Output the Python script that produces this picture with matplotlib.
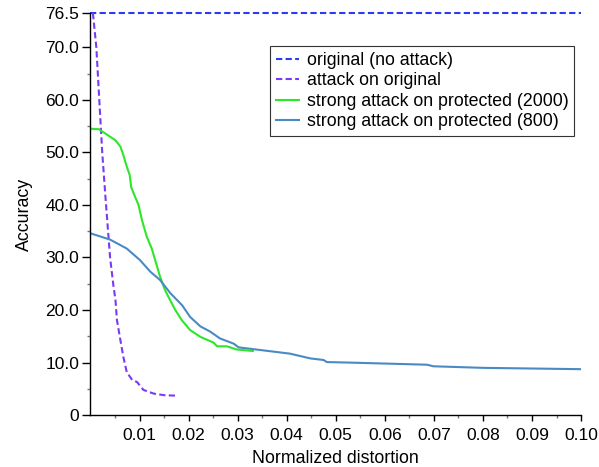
import matplotlib
matplotlib.use("Agg")
import matplotlib.pyplot as plt
from matplotlib.ticker import FixedLocator

plt.rcParams["font.family"] = ["Liberation Sans", "DejaVu Sans"]

# baseline accuracy without any attack
orig_acc = 76.5
orig_x = [0.0, 0.10]

# attack on the unprotected model
atk_x = [0.0005, 0.0012, 0.0018, 0.0024, 0.0031, 0.0040, 0.0047, 0.0051, 0.0054,
         0.0061, 0.0067, 0.0074, 0.0085, 0.0095, 0.0108, 0.0129, 0.0150, 0.0178]
atk_y = [76.5, 70.0, 60.0, 50.0, 41.0, 30.0, 24.5, 21.9, 18.1,
         14.3, 11.1, 8.2, 6.7, 6.3, 4.8, 4.1, 3.8, 3.7]

# strong attack on protected model (2000)
p2000_x = [0.0, 0.0017, 0.0030, 0.0051, 0.0061, 0.0067, 0.0074, 0.0080, 0.0083, 0.0088,
           0.0098, 0.0105, 0.0115, 0.0125, 0.0142, 0.0152, 0.0159, 0.0173,
           0.0186, 0.0203, 0.0224, 0.0251, 0.0258, 0.0278, 0.0298, 0.0331]
p2000_y = [54.5, 54.4, 53.6, 52.3, 51.1, 49.5, 47.3, 45.7, 43.4, 42.2,
           40.0, 37.1, 33.9, 31.7, 26.3, 23.8, 22.5, 20.0,
           18.1, 16.2, 14.9, 13.8, 13.1, 13.1, 12.5, 12.2]

# strong attack on protected model (800)
p800_x = [0.0, 0.0040, 0.0074, 0.0101, 0.0122, 0.0142, 0.0163, 0.0187, 0.0203, 0.0224,
          0.0244, 0.0264, 0.0292, 0.0302, 0.0346, 0.0407, 0.0448, 0.0475, 0.0482,
          0.0529, 0.0686, 0.0699, 0.0801, 0.1000]
p800_y = [34.6, 33.4, 31.7, 29.5, 27.3, 25.7, 23.2, 20.9, 18.7, 16.9,
          15.9, 14.6, 13.6, 12.9, 12.4, 11.7, 10.8, 10.5, 10.1,
          10.0, 9.6, 9.3, 9.0, 8.75]

y_ticks = [0, 10, 20, 30, 40, 50, 60, 70, 76.5]
y_labels = ["0", "10.0", "20.0", "30.0", "40.0", "50.0", "60.0", "70.0", "76.5"]
x_ticks = [0.01, 0.02, 0.03, 0.04, 0.05, 0.06, 0.07, 0.08, 0.09, 0.10]
x_labels = ["0.01", "0.02", "0.03", "0.04", "0.05", "0.06", "0.07", "0.08", "0.09", "0.10"]

fig = plt.figure(figsize=(5.99, 4.67), dpi=100)
ax = fig.add_axes([0.151, 0.111, 0.819, 0.861])

ax.plot(orig_x, [orig_acc, orig_acc], color="#2a3cf2", lw=1.5, dashes=(3, 1.6),
        label="original (no attack)", clip_on=False)
ax.plot(atk_x, atk_y, color="#7a3af5", lw=1.5, dashes=(3, 1.6),
        label="attack on original", clip_on=False)
ax.plot(p2000_x, p2000_y, color="#2ee62a", lw=1.5,
        label="strong attack on protected (2000)")
ax.plot(p800_x, p800_y, color="#4a8ac4", lw=1.5,
        label="strong attack on protected (800)")

ax.set_xlim(0, 0.10)
ax.set_ylim(0, 76.5)
ax.set_yticks(y_ticks)
ax.set_yticklabels(y_labels)
ax.set_xticks(x_ticks)
ax.set_xticklabels(x_labels)
ax.yaxis.set_minor_locator(FixedLocator([5, 15, 25, 35, 45, 55, 65]))
ax.xaxis.set_minor_locator(FixedLocator([0.005 + 0.01 * i for i in range(10)]))

for s in ("top", "right"):
    ax.spines[s].set_visible(False)
for s in ("left", "bottom"):
    ax.spines[s].set_linewidth(1.0)

ax.tick_params(axis="y", which="major", length=6, width=1, labelsize=12.5, pad=2)
ax.tick_params(axis="x", which="major", length=4.5, width=1, labelsize=12.5, pad=5)
ax.tick_params(which="minor", length=2.5, width=1, color="#777777")

ax.set_xlabel("Normalized distortion", fontsize=12.8, labelpad=5)
ax.set_ylabel("Accuracy", fontsize=12.8, labelpad=9)

leg = ax.legend(loc="upper left", bbox_to_anchor=(0.366, 0.918), borderaxespad=0,
                fontsize=12.8, frameon=True, fancybox=False, framealpha=1,
                edgecolor="#333333", handlelength=1.3, handletextpad=0.45,
                labelspacing=0.2, borderpad=0.32)
leg.get_frame().set_linewidth(0.8)

fig.savefig("out.png", dpi=100)
